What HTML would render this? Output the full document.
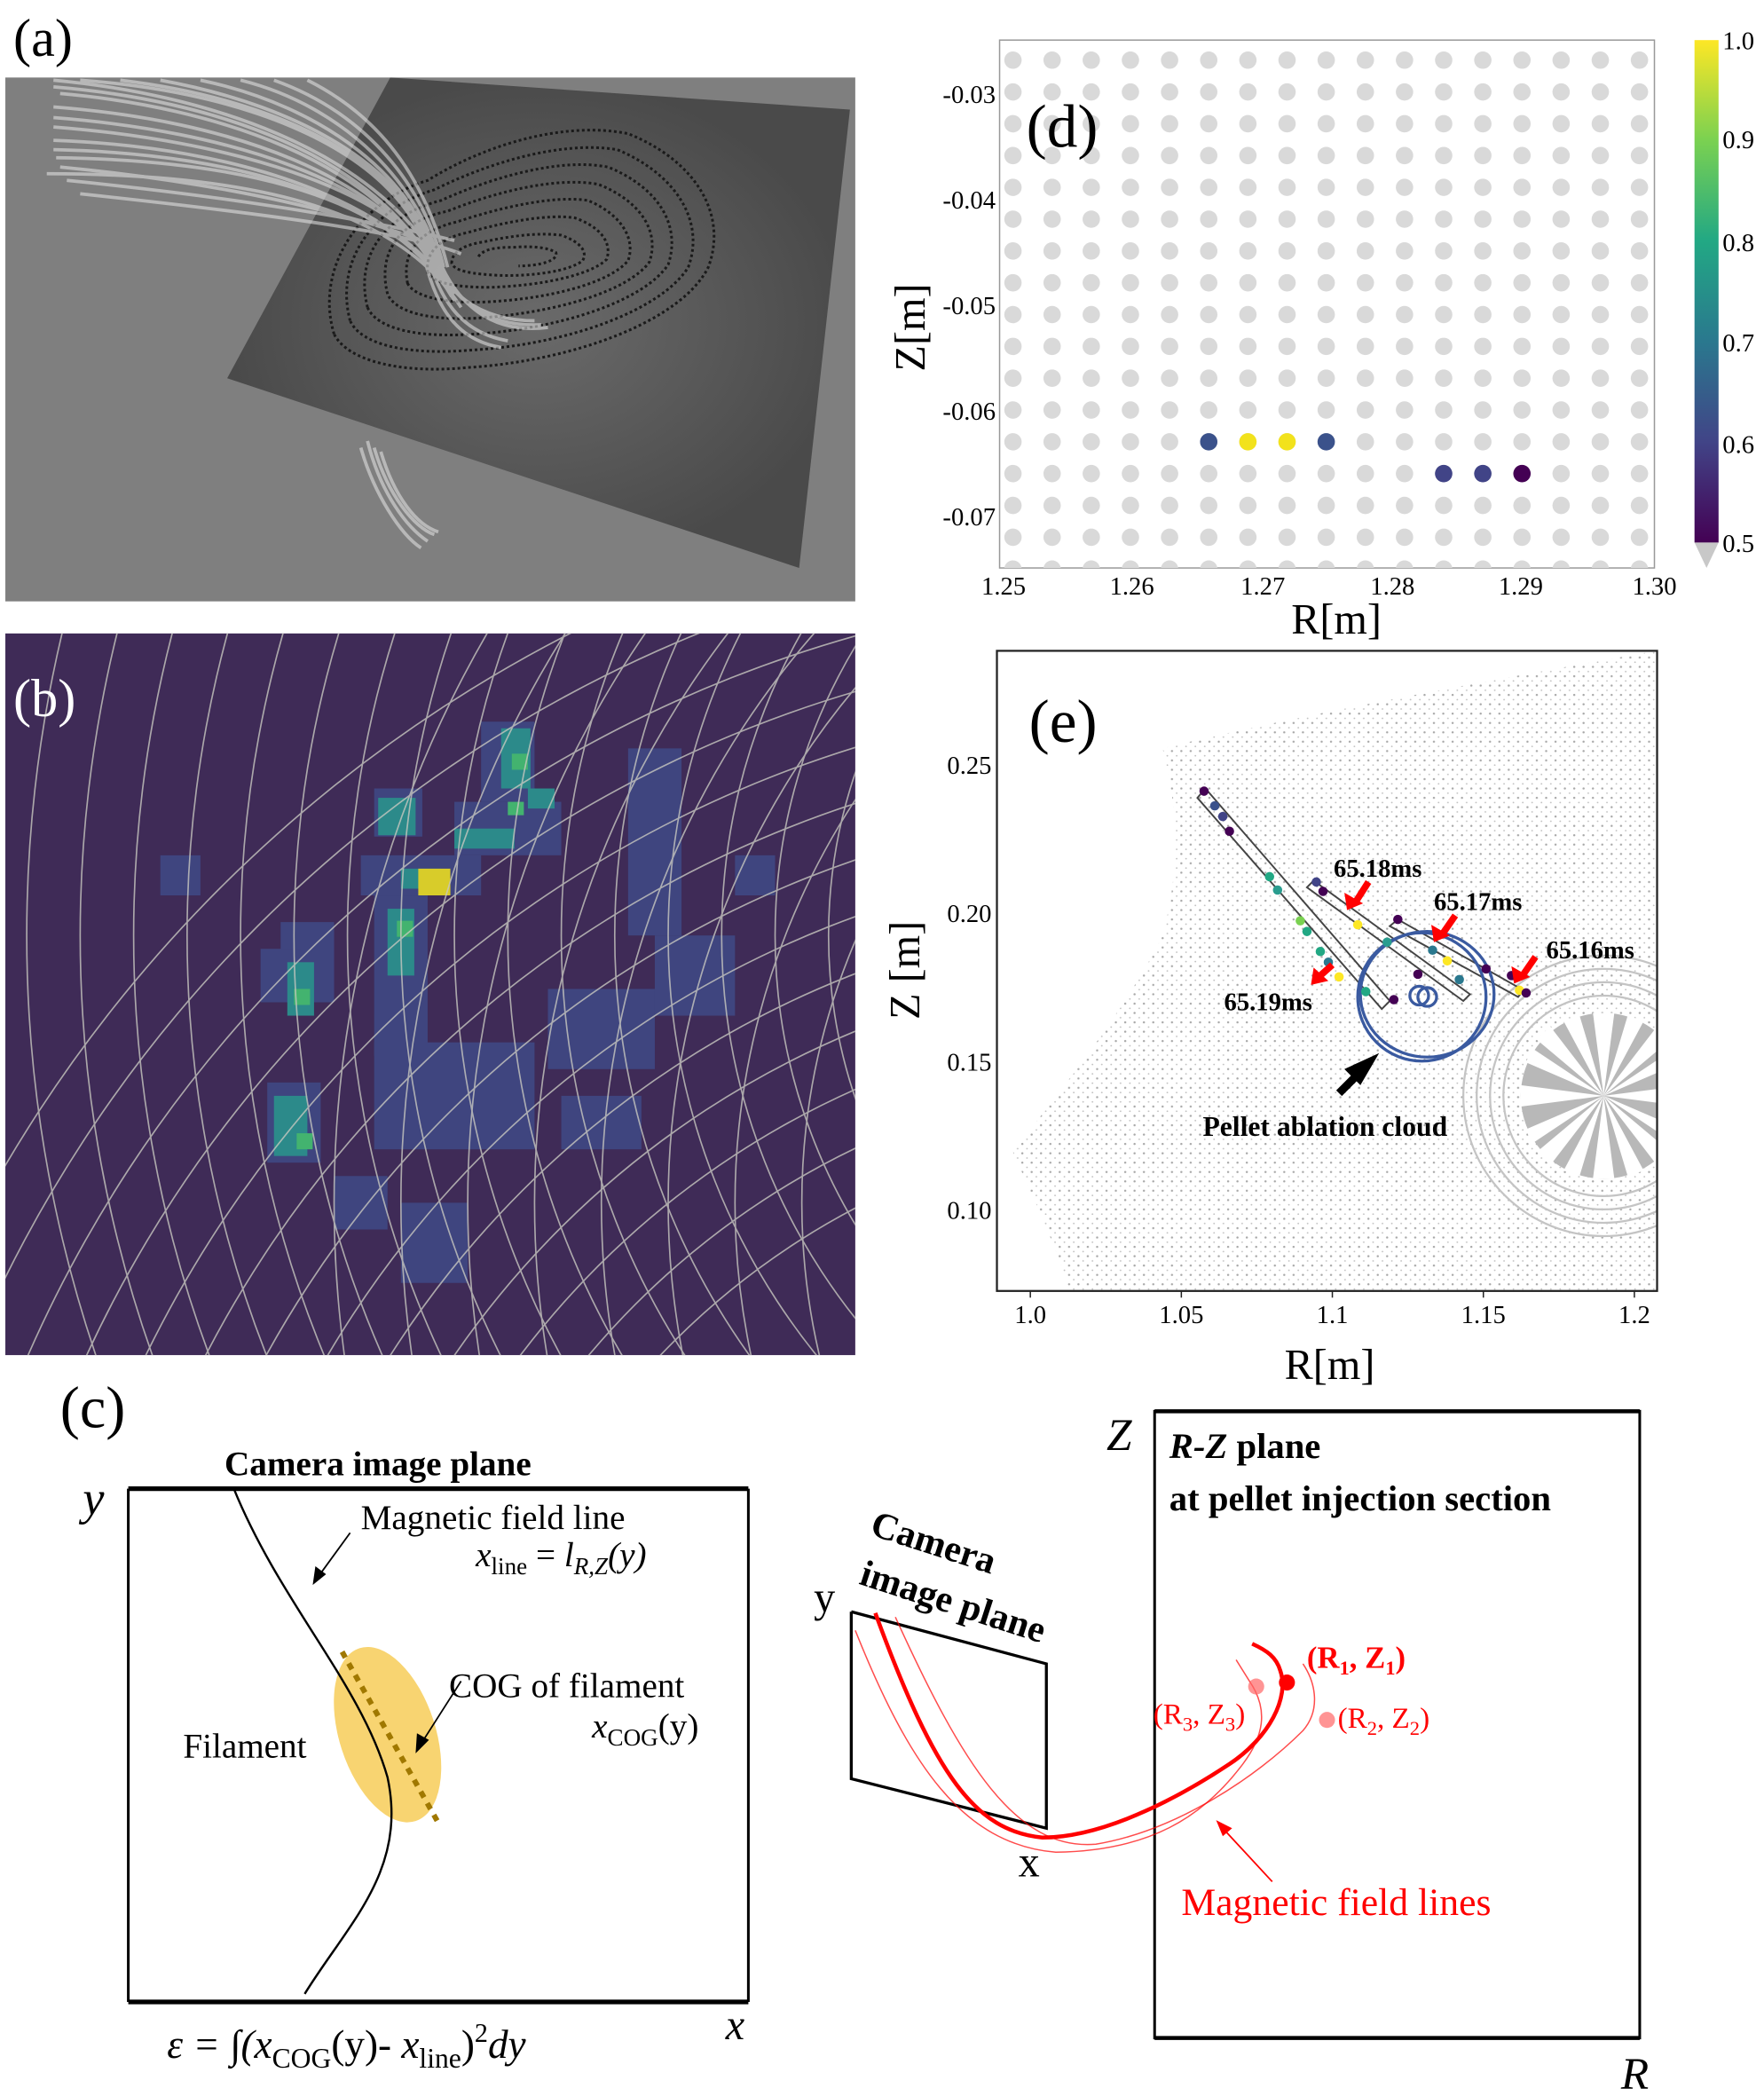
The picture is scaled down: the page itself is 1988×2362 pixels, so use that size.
<!DOCTYPE html>
<html><head><meta charset="utf-8"><style>
html,body{margin:0;padding:0;background:#fff;width:1988px;height:2362px;overflow:hidden;}
svg{display:block;}
text{font-family:"Liberation Serif",serif;}
</style></head><body>
<svg width="1988" height="2362" viewBox="0 0 1320 1568.4" preserveAspectRatio="none" xmlns="http://www.w3.org/2000/svg">
<defs>
<clipPath id="cb"><rect x="4" y="474" width="636" height="540"/></clipPath>
<clipPath id="ca"><rect x="4" y="58" width="636" height="392"/></clipPath>
<clipPath id="cd"><rect x="748" y="30" width="490" height="395"/></clipPath>
<clipPath id="ce"><rect x="746" y="487" width="494" height="479"/></clipPath>
<pattern id="dots" width="7" height="7" patternUnits="userSpaceOnUse"><circle cx="2" cy="2" r="0.8" fill="#a8a8a8"/><circle cx="5.5" cy="5.5" r="0.6" fill="#c0c0c0"/></pattern>
<linearGradient id="vir" x1="0" y1="1" x2="0" y2="0">
<stop offset="0" stop-color="#440154"/><stop offset="0.2" stop-color="#414487"/><stop offset="0.4" stop-color="#2a788e"/><stop offset="0.6" stop-color="#22a884"/><stop offset="0.8" stop-color="#7ad151"/><stop offset="1" stop-color="#fde725"/></linearGradient>
<radialGradient id="glow" cx="0.5" cy="0.5" r="0.5"><stop offset="0" stop-color="#6a6a6a"/><stop offset="1" stop-color="#4a4a4a"/></radialGradient>
</defs>

<!-- (a) -->
<text x="10" y="42" font-size="40">(a)</text>
<rect x="4" y="58" width="636" height="392" fill="#7f7f7f"/>
<g clip-path="url(#ca)">
<polygon points="292,58 636,82 598,425 170,283" fill="url(#glow)"/>
<g fill="none" stroke="#1a1a1a" stroke-width="2" stroke-dasharray="2,2">
<path d="M250,250 C235,200 270,150 320,135 C360,110 420,90 470,100 C520,120 545,160 530,200 C510,240 430,270 350,275 C300,280 260,270 250,250Z"/>
<path d="M262,240 C250,195 280,155 325,142 C365,122 420,105 462,112 C505,130 528,165 515,200 C495,232 425,258 352,262 C305,266 270,258 262,240Z"/>
<path d="M275,230 C265,190 290,160 330,150 C370,132 420,118 455,125 C492,140 510,168 500,198 C482,225 420,246 355,250 C312,253 282,246 275,230Z"/>
<path d="M290,220 C282,188 300,165 335,158 C372,143 418,132 448,138 C478,150 494,172 486,196 C470,218 416,234 358,238 C322,240 296,234 290,220Z"/>
<path d="M305,212 C300,188 315,172 342,166 C375,155 415,146 440,150 C464,160 476,178 470,195 C456,212 410,224 362,226 C332,227 310,222 305,212Z"/>
<path d="M320,204 C318,188 330,178 350,174 C378,166 410,160 430,163 C450,170 458,182 454,194 C442,206 404,214 366,215 C342,215 324,212 320,204Z"/>
<path d="M338,197 C338,188 348,183 362,181 C384,176 405,174 420,176 C434,181 440,188 436,195 C426,203 398,207 372,206 C354,205 340,203 338,197Z"/>
<path d="M358,192 C362,186 372,185 385,185 C398,184 410,185 416,189 C418,195 404,199 388,199 C372,199 360/197 358,192Z"/>
</g>
<g fill="none" stroke="#e8e8e8" stroke-width="2.5" opacity="0.55">
<path d="M40,60 C150,70 280,110 330,200"/><path d="M45,70 C160,80 285,120 330,210"/><path d="M40,80 C170,90 290,130 335,215"/>
<path d="M40,95 C170,105 290,140 330,200"/><path d="M40,105 C180,110 295,150 340,220"/><path d="M42,118 C190,120 300,150 340,225"/>
<path d="M35,130 C200,130 300,160 345,230"/><path d="M60,60 C200,70 300,120 320,190"/><path d="M120,60 C230,80 310,130 325,195"/>
<path d="M180,60 C260,80 315,140 330,200"/><path d="M230,60 C290,90 320,140 335,200"/><path d="M45,125 C200,140 290,170 330,185"/>
<path d="M50,135 C200,150 300,170 340,180"/><path d="M60,145 C200,160 310,175 345,190"/>
<path d="M40,65 C160,75 280,115 328,205"/><path d="M40,88 C170,98 290,135 332,208"/><path d="M40,112 C185,115 298,152 338,222"/>
<path d="M90,60 C215,75 305,125 322,192"/><path d="M150,60 C245,80 312,135 327,198"/><path d="M205,60 C275,85 318,140 332,200"/>
<path d="M320,180 C330,220 360,240 400,240"/><path d="M325,185 C340,230 370,250 410,245"/><path d="M320,190 C330,230 350,250 380,255"/>
<path d="M322,183 C335,225 365,245 405,243"/><path d="M318,195 C328,235 345,255 375,260"/>
<path d="M270,335 C280,370 300,400 315,410"/><path d="M275,330 C285,370 305,395 320,405"/><path d="M280,335 C290,370 310,395 325,400"/><path d="M285,338 C295,372 312,393 328,398"/>
</g>
</g>

<!-- (b) -->
<rect x="4" y="474" width="636" height="540" fill="#3f2b57"/>
<g clip-path="url(#cb)">
<g fill="#3f4a86" opacity="0.85">
<rect x="210" y="690" width="40" height="60"/><rect x="195" y="710" width="30" height="40"/><rect x="280" y="590" width="36" height="36"/>
<rect x="270" y="640" width="90" height="30"/><rect x="280" y="670" width="40" height="120"/><rect x="360" y="540" width="40" height="60"/>
<rect x="340" y="600" width="80" height="40"/><rect x="470" y="560" width="40" height="140"/><rect x="490" y="700" width="60" height="60"/>
<rect x="200" y="810" width="40" height="60"/><rect x="280" y="780" width="120" height="80"/><rect x="410" y="740" width="80" height="60"/>
<rect x="300" y="900" width="50" height="60"/><rect x="420" y="820" width="60" height="40"/><rect x="250" y="880" width="40" height="40"/>
<rect x="120" y="640" width="30" height="30"/><rect x="550" y="640" width="30" height="30"/>
</g>
<g fill="#2c8a8a">
<rect x="283" y="597" width="28" height="28"/><rect x="375" y="545" width="22" height="45"/><rect x="300" y="650" width="30" height="15"/>
<rect x="290" y="680" width="20" height="50"/><rect x="215" y="720" width="20" height="40"/><rect x="205" y="820" width="25" height="45"/>
<rect x="340" y="620" width="45" height="15"/><rect x="395" y="590" width="20" height="15"/>
</g>
<g fill="#43b36f"><rect x="383" y="564" width="12" height="12"/><rect x="297" y="689" width="12" height="12"/><rect x="220" y="740" width="12" height="12"/><rect x="222" y="848" width="12" height="12"/><rect x="380" y="600" width="12" height="10"/></g>
<rect x="313" y="650" width="24" height="20" fill="#d8cc2a"/>
<g fill="none" stroke="#c8c8c0" stroke-width="1.1" opacity="0.8">
<circle cx="900" cy="1400" r="560"/><circle cx="900" cy="1400" r="600"/><circle cx="900" cy="1400" r="640"/><circle cx="900" cy="1400" r="680"/><circle cx="900" cy="1400" r="720"/><circle cx="900" cy="1400" r="760"/><circle cx="900" cy="1400" r="800"/><circle cx="900" cy="1400" r="840"/><circle cx="900" cy="1400" r="880"/><circle cx="900" cy="1400" r="920"/><circle cx="900" cy="1400" r="960"/><circle cx="900" cy="1400" r="1000"/><circle cx="900" cy="1400" r="1040"/>
<circle cx="1000" cy="700" r="380"/><circle cx="1000" cy="700" r="420"/><circle cx="1000" cy="700" r="460"/><circle cx="1000" cy="700" r="500"/><circle cx="1000" cy="700" r="540"/><circle cx="1000" cy="700" r="580"/><circle cx="1000" cy="700" r="620"/><circle cx="1000" cy="700" r="660"/><circle cx="1000" cy="700" r="700"/><circle cx="1000" cy="700" r="740"/><circle cx="1000" cy="700" r="780"/><circle cx="1000" cy="700" r="820"/><circle cx="1000" cy="700" r="860"/><circle cx="1000" cy="700" r="900"/><circle cx="1000" cy="700" r="940"/><circle cx="1000" cy="700" r="980"/>
<circle cx="1100" cy="900" r="400"/><circle cx="1100" cy="900" r="450"/><circle cx="1100" cy="900" r="500"/><circle cx="1100" cy="900" r="550"/><circle cx="1100" cy="900" r="600"/><circle cx="1100" cy="900" r="650"/><circle cx="1100" cy="900" r="700"/><circle cx="1100" cy="900" r="750"/><circle cx="1100" cy="900" r="800"/><circle cx="1100" cy="900" r="850"/>
</g>
</g>
<text x="10" y="536" font-size="40" fill="#fff">(b)</text>

<!-- (d) -->
<rect x="748" y="30" width="490" height="395" fill="#fff" stroke="#999" stroke-width="1"/>
<g clip-path="url(#cd)" fill="#d9d9d9">
<g id="row"><circle cx="758" cy="0" r="6.5"/><circle cx="787.3" cy="0" r="6.5"/><circle cx="816.6" cy="0" r="6.5"/><circle cx="845.9" cy="0" r="6.5"/><circle cx="875.2" cy="0" r="6.5"/><circle cx="904.5" cy="0" r="6.5"/><circle cx="933.8" cy="0" r="6.5"/><circle cx="963.1" cy="0" r="6.5"/><circle cx="992.4" cy="0" r="6.5"/><circle cx="1021.7" cy="0" r="6.5"/><circle cx="1051" cy="0" r="6.5"/><circle cx="1080.3" cy="0" r="6.5"/><circle cx="1109.6" cy="0" r="6.5"/><circle cx="1138.9" cy="0" r="6.5"/><circle cx="1168.2" cy="0" r="6.5"/><circle cx="1197.5" cy="0" r="6.5"/><circle cx="1226.8" cy="0" r="6.5"/></g>
<use href="#row" y="45"/><use href="#row" y="68.8"/><use href="#row" y="92.6"/><use href="#row" y="116.4"/><use href="#row" y="140.2"/><use href="#row" y="164"/><use href="#row" y="187.8"/><use href="#row" y="211.6"/><use href="#row" y="235.4"/><use href="#row" y="259.2"/><use href="#row" y="283"/><use href="#row" y="306.8"/><use href="#row" y="330.6"/><use href="#row" y="354.4"/><use href="#row" y="378.2"/><use href="#row" y="402"/><use href="#row" y="425.8"/>
</g>
<circle cx="904.5" cy="330.6" r="6.5" fill="#3b528b"/><circle cx="933.8" cy="330.6" r="6.5" fill="#f2e21c"/><circle cx="963.1" cy="330.6" r="6.5" fill="#f2e21c"/><circle cx="992.4" cy="330.6" r="6.5" fill="#3b528b"/>
<circle cx="1080.3" cy="354.4" r="6.5" fill="#414487"/><circle cx="1109.6" cy="354.4" r="6.5" fill="#414487"/><circle cx="1138.9" cy="354.4" r="6.5" fill="#440154"/>
<text x="768" y="110" font-size="46">(d)</text>
<g font-size="19" text-anchor="end">
<text x="745" y="77">-0.03</text><text x="745" y="156">-0.04</text><text x="745" y="235">-0.05</text><text x="745" y="314">-0.06</text><text x="745" y="393">-0.07</text></g>
<g font-size="19" text-anchor="middle">
<text x="751" y="445">1.25</text><text x="847" y="445">1.26</text><text x="945" y="445">1.27</text><text x="1042" y="445">1.28</text><text x="1138" y="445">1.29</text><text x="1238" y="445">1.30</text></g>
<text x="1000" y="474" font-size="32" text-anchor="middle">R[m]</text>
<text transform="translate(692,245) rotate(-90)" font-size="32" text-anchor="middle">Z[m]</text>
<rect x="1268" y="30" width="18" height="376" fill="url(#vir)"/>
<polygon points="1268,406 1286,406 1277,425" fill="#c8c8c8"/>
<g font-size="19"><text x="1289" y="37">1.0</text><text x="1289" y="111">0.9</text><text x="1289" y="188">0.8</text><text x="1289" y="263">0.7</text><text x="1289" y="339">0.6</text><text x="1289" y="413">0.5</text></g>

<!-- (e) -->
<rect x="746" y="487" width="494" height="479" fill="#fff"/>
<g clip-path="url(#ce)">
<path d="M870,560 C930,545 1050,520 1240,487 L1240,966 L800,966 C790,930 770,890 758,862 C790,820 840,760 870,700 C880,660 885,620 870,560Z" fill="url(#dots)"/>
<g fill="none" stroke="#c4c4c4" stroke-width="1.5">
<circle cx="1200" cy="820" r="75"/><circle cx="1200" cy="820" r="85"/><circle cx="1200" cy="820" r="95"/><circle cx="1200" cy="820" r="105"/>
</g>
<circle cx="1200" cy="820" r="62" fill="#b8b8b8"/>
<g fill="#fff">
<polygon points="1200,820 1262,812 1262,828"/><polygon points="1200,820 1138,812 1138,828"/><polygon points="1200,820 1192,758 1208,758"/><polygon points="1200,820 1192,882 1208,882"/>
<polygon points="1200,820 1250,778 1240,768"/><polygon points="1200,820 1150,862 1160,872"/><polygon points="1200,820 1150,778 1160,768"/><polygon points="1200,820 1250,862 1240,872"/>
<polygon points="1200,820 1230,764 1218,760"/><polygon points="1200,820 1170,876 1182,880"/><polygon points="1200,820 1170,764 1182,760"/><polygon points="1200,820 1230,876 1218,880"/>
<polygon points="1200,820 1258,795 1254,784"/><polygon points="1200,820 1142,845 1146,856"/><polygon points="1200,820 1142,795 1146,784"/><polygon points="1200,820 1258,845 1254,856"/>
</g>
</g>
<rect x="746" y="487" width="494" height="479" fill="none" stroke="#222" stroke-width="1.5"/>
<g fill="none" stroke="#444" stroke-width="1.3">
<polygon points="896,597 902,590 1040,749 1034,755"/>
<polygon points="978,664 983,659 1100,744 1095,749"/>
<polygon points="1040,693 1046,688 1140,741 1136,746"/>
</g>
<g fill="none" stroke="#3a5aa0" stroke-width="2.2">
<circle cx="1064" cy="746" r="48"/><ellipse cx="1068" cy="744" rx="50" ry="47"/><circle cx="1062" cy="745" r="7"/><circle cx="1068" cy="746" r="7"/>
</g>
<g>
<circle cx="901" cy="592" r="3.5" fill="#440154"/><circle cx="909" cy="603" r="3.5" fill="#3b528b"/><circle cx="915" cy="611" r="3.5" fill="#414487"/><circle cx="920" cy="622" r="3.5" fill="#440154"/>
<circle cx="950" cy="656" r="3.5" fill="#22a884"/><circle cx="956" cy="666" r="3.5" fill="#2a9d8f"/><circle cx="973" cy="689" r="3.5" fill="#7ad151"/><circle cx="978" cy="697" r="3.5" fill="#22a884"/><circle cx="988" cy="712" r="3.5" fill="#22a884"/><circle cx="994" cy="720" r="3.5" fill="#2a788e"/><circle cx="1002" cy="731" r="3.5" fill="#fde725"/><circle cx="1022" cy="742" r="3.5" fill="#22a884"/><circle cx="1043" cy="748" r="3.5" fill="#440154"/>
<circle cx="985" cy="660" r="3.5" fill="#414487"/><circle cx="990" cy="667" r="3.5" fill="#440154"/><circle cx="1016" cy="692" r="3.5" fill="#fde725"/><circle cx="1038" cy="705" r="3.5" fill="#2a9d8f"/><circle cx="1061" cy="729" r="3.5" fill="#440154"/>
<circle cx="1046" cy="688" r="3.5" fill="#440154"/><circle cx="1072" cy="711" r="3.5" fill="#2a788e"/><circle cx="1083" cy="719" r="3.5" fill="#fde725"/><circle cx="1092" cy="733" r="3.5" fill="#2a788e"/><circle cx="1112" cy="725" r="3.5" fill="#440154"/><circle cx="1131" cy="730" r="3.5" fill="#440154"/><circle cx="1137" cy="741" r="3.5" fill="#fde725"/><circle cx="1142" cy="743" r="3.5" fill="#440154"/>
</g>
<g fill="#f00" stroke="#f00">
<line x1="1024" y1="660" x2="1015" y2="674" stroke-width="5"/><polygon points="1008,681 1006,668 1020,676" stroke="none"/>
<line x1="1089" y1="685" x2="1080" y2="698" stroke-width="5"/><polygon points="1073,705 1071,692 1085,700" stroke="none"/>
<line x1="1149" y1="716" x2="1140" y2="729" stroke-width="5"/><polygon points="1133,736 1131,723 1145,731" stroke="none"/>
<line x1="997" y1="722" x2="988" y2="730" stroke-width="5"/><polygon points="981,737 983,724 994,734" stroke="none"/>
</g>
<line x1="1024" y1="796" x2="1002" y2="818" stroke="#000" stroke-width="6"/>
<polygon points="1032,788 1006,800 1018,812" fill="#000"/>
<g font-size="19" font-weight="bold">
<text x="998" y="656">65.18ms</text><text x="1073" y="681">65.17ms</text><text x="1157" y="717">65.16ms</text><text x="916" y="756">65.19ms</text></g>
<text x="900" y="850" font-size="21" font-weight="bold" font-family="Liberation Sans, sans-serif">Pellet ablation cloud</text>
<text x="770" y="555" font-size="46">(e)</text>
<g font-size="19" text-anchor="end"><text x="742" y="579">0.25</text><text x="742" y="690">0.20</text><text x="742" y="801">0.15</text><text x="742" y="912">0.10</text></g>
<g font-size="19" text-anchor="middle"><text x="771" y="990">1.0</text><text x="884" y="990">1.05</text><text x="997" y="990">1.1</text><text x="1110" y="990">1.15</text><text x="1223" y="990">1.2</text></g>
<g stroke="#222" stroke-width="1"><line x1="771" y1="966" x2="771" y2="971"/><line x1="884" y1="966" x2="884" y2="971"/><line x1="997" y1="966" x2="997" y2="971"/><line x1="1110" y1="966" x2="1110" y2="971"/><line x1="1223" y1="966" x2="1223" y2="971"/></g>
<text x="995" y="1032" font-size="32" text-anchor="middle">R[m]</text>
<text transform="translate(688,726) rotate(-90)" font-size="32" text-anchor="middle">Z [m]</text>

<!-- (c) -->
<text x="45" y="1068" font-size="44">(c)</text>
<line x1="96" y1="1114" x2="560" y2="1114" stroke="#000" stroke-width="3.5"/>
<line x1="96" y1="1498" x2="560" y2="1498" stroke="#000" stroke-width="3.5"/>
<line x1="96" y1="1114" x2="96" y2="1498" stroke="#000" stroke-width="2"/>
<line x1="560" y1="1114" x2="560" y2="1498" stroke="#000" stroke-width="2"/>
<text x="168" y="1104" font-size="26" font-weight="bold">Camera image plane</text>
<text x="62" y="1133" font-size="36" font-style="italic">y</text>
<text x="543" y="1526" font-size="32" font-style="italic">x</text>
<ellipse cx="290" cy="1298" rx="36" ry="68" transform="rotate(-18 290 1298)" fill="#f5c542" opacity="0.75"/>
<path d="M175,1114 C210,1200 270,1260 290,1330 C305,1400 260,1440 228,1492" fill="none" stroke="#000" stroke-width="1.6"/>
<line x1="256" y1="1236" x2="328" y2="1364" stroke="#a07800" stroke-width="4" stroke-dasharray="5,5"/>
<line x1="262" y1="1147" x2="238" y2="1180" stroke="#000" stroke-width="1.2"/><polygon points="234,1186 236,1172 244,1178"/>
<line x1="345" y1="1258" x2="315" y2="1305" stroke="#000" stroke-width="1.2"/><polygon points="311,1312 312,1297 321,1302"/>
<text x="270" y="1144" font-size="26">Magnetic field line</text>
<text x="356" y="1172" font-size="26" font-style="italic">x<tspan font-size="18" dy="6" font-style="normal">line</tspan><tspan dy="-6" font-style="normal"> = </tspan>l<tspan font-size="18" dy="6">R,Z</tspan><tspan dy="-6">(y)</tspan></text>
<text x="336" y="1270" font-size="26">COG of filament</text>
<text x="443" y="1300" font-size="26" font-style="italic">x<tspan font-size="18" dy="6" font-style="normal">COG</tspan><tspan dy="-6" font-style="normal">(y)</tspan></text>
<text x="137" y="1315" font-size="26">Filament</text>
<text x="125" y="1540" font-size="30" font-style="italic">ε = ∫(x<tspan font-size="21" dy="7" font-style="normal">COG</tspan><tspan dy="-7" font-style="normal">(y)- </tspan>x<tspan font-size="21" dy="7" font-style="normal">line</tspan><tspan dy="-7" font-style="normal">)</tspan><tspan dy="-12" font-size="20" font-style="normal">2</tspan><tspan dy="12">dy</tspan></text>

<!-- right diagram -->
<rect x="864" y="1056" width="363" height="469" fill="none" stroke="#000" stroke-width="2"/>
<line x1="864" y1="1056" x2="1227" y2="1056" stroke="#000" stroke-width="3"/>
<line x1="864" y1="1525" x2="1227" y2="1525" stroke="#000" stroke-width="3"/>
<text x="828" y="1085" font-size="34" font-style="italic">Z</text>
<text x="1213" y="1563" font-size="34" font-style="italic">R</text>
<text x="875" y="1091" font-size="27" font-weight="bold"><tspan font-style="italic">R-Z</tspan> plane</text>
<text x="875" y="1130" font-size="27" font-weight="bold">at pellet injection section</text>
<text transform="translate(650,1148) rotate(18)" font-size="28" font-weight="bold">Camera</text>
<text transform="translate(642,1185) rotate(18)" font-size="28" font-weight="bold">image plane</text>
<text x="609" y="1206" font-size="32">y</text>
<text x="762" y="1404" font-size="32">x</text>
<g fill="none" stroke="#000" stroke-width="2.2">
<polyline points="637,1206 783,1245 783,1368 637,1331 637,1206"/>
</g>
<g fill="none" stroke="#f00">
<path d="M655,1207 C700,1330 730,1370 780,1375 C830,1375 890,1340 920,1320 C950,1300 965,1270 958,1250 C955,1240 948,1235 937,1230" stroke-width="3"/>
<path d="M640,1220 C680,1320 720,1380 790,1386 C860,1385 900,1360 930,1320 C945,1300 950,1280 935,1258 L925,1242" stroke-width="1" opacity="0.7"/>
<path d="M670,1210 C720,1320 760,1385 820,1380 C880,1370 940,1330 975,1295 C988,1280 985,1260 975,1245" stroke-width="1" opacity="0.7"/>
</g>
<circle cx="963" cy="1259" r="6" fill="#f00"/>
<circle cx="940" cy="1262" r="6" fill="#f66" opacity="0.7"/>
<circle cx="993" cy="1287" r="6" fill="#f66" opacity="0.7"/>
<g fill="#f00">
<text x="978" y="1248" font-size="23" font-weight="bold">(R<tspan font-size="15" dy="5">1</tspan><tspan dy="-5">, Z</tspan><tspan font-size="15" dy="5">1</tspan><tspan dy="-5">)</tspan></text>
<text x="863" y="1290" font-size="22">(R<tspan font-size="15" dy="5">3</tspan><tspan dy="-5">, Z</tspan><tspan font-size="15" dy="5">3</tspan><tspan dy="-5">)</tspan></text>
<text x="1001" y="1293" font-size="22">(R<tspan font-size="15" dy="5">2</tspan><tspan dy="-5">, Z</tspan><tspan font-size="15" dy="5">2</tspan><tspan dy="-5">)</tspan></text>
<text x="884" y="1433" font-size="29">Magnetic field lines</text>
</g>
<line x1="952" y1="1408" x2="915" y2="1368" stroke="#f00" stroke-width="1.2"/>
<polygon points="910,1362 922,1368 915,1374" fill="#f00"/>
</svg>
</body></html>
